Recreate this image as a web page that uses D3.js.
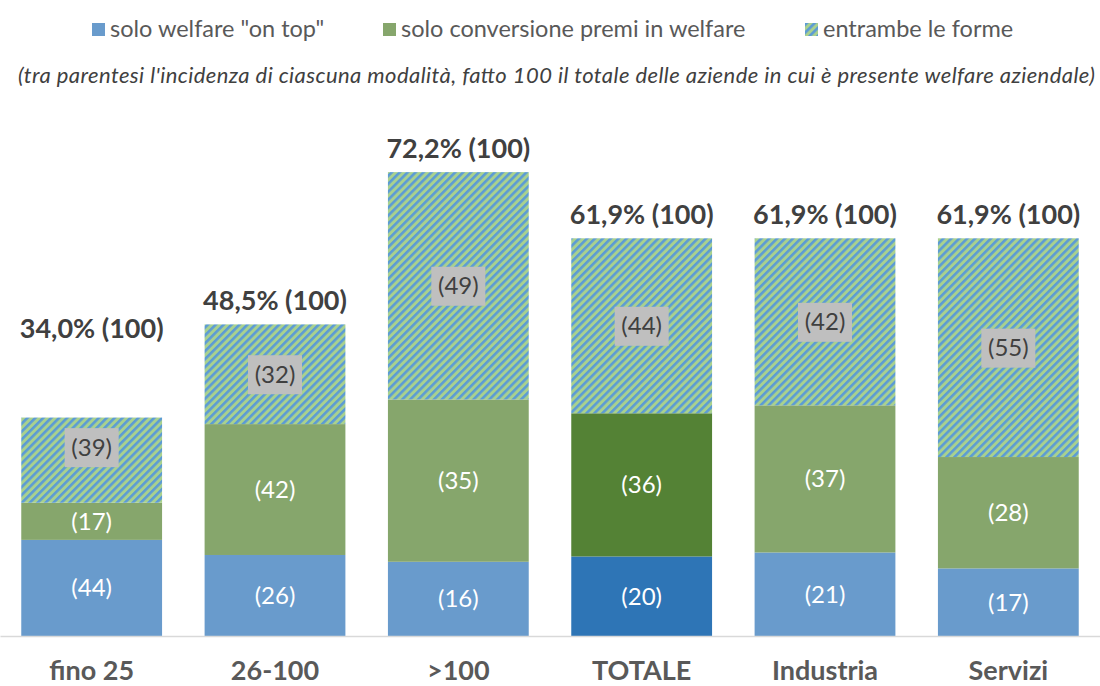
<!DOCTYPE html>
<html>
<head>
<meta charset="utf-8">
<script src="https://cdn.jsdelivr.net/npm/d3@7"></script>
<style>
  body { margin: 0; background: #fff; }
  svg { display: block; }
</style>
</head>
<body>
<div id="chart"></div>
<script>
const categories = ['fino 25', '26-100', '>100', 'TOTALE', 'Industria', 'Servizi']
const totals = [34.0, 48.5, 72.2, 61.9, 61.9, 61.9]
const onTop = [44, 26, 16, 20, 21, 17]
const conversione = [17, 42, 35, 36, 37, 28]
const entrambe = [39, 32, 49, 44, 42, 55]
const seriesNames = ['solo welfare "on top"', 'solo conversione premi in welfare', 'entrambe le forme']
const subtitle = "(tra parentesi l'incidenza di ciascuna  modalità, fatto 100 il totale delle aziende in cui è presente welfare aziendale)"

const width = 1100, height = 686
const baseline = 636
const font = 'Lato, "Open Sans", sans-serif'

const xScale = d3.scaleBand().domain(categories).range([0, 1100]).paddingInner(0.232).paddingOuter(0.116)
const yScale = d3.scaleLinear().domain([0, 80]).range([baseline, baseline - 80 * 6.425])

const svg = d3.select('#chart').append('svg')
              .attr('width', width)
              .attr('height', height)
              .style('font-family', font)

// hatch pattern for "entrambe le forme"
const pattern = svg.append('defs').append('pattern')
                   .attr('id', 'hatch')
                   .attr('patternUnits', 'userSpaceOnUse')
                   .attr('width', 5.6).attr('height', 5.6)
                   .attr('patternTransform', 'rotate(45)')
pattern.append('rect').attr('width', 5.6).attr('height', 5.6).attr('fill', '#a9d18e')
pattern.append('rect').attr('width', 2.6).attr('height', 5.6).attr('fill', '#5b9bd5')

const fills = (i, k) => {
    if (k === 2) return 'url(#hatch)'
    if (categories[i] === 'TOTALE') return k === 0 ? '#2e75b6' : '#548235'
    return k === 0 ? '#699bcc' : '#86a66c'
}

// build stacked rows: share of each bar total
const rows = categories.map((c, i) => ({ cat: c, total: totals[i], s: [onTop[i], conversione[i], entrambe[i]] }))
const segs = []
rows.forEach((r, i) => {
    let acc = 0
    r.s.forEach((v, k) => {
        const y0 = acc, y1 = acc + v * r.total / 100
        segs.push({ i, k, cat: r.cat, v, y0, y1 })
        acc = y1
    })
})

const graph = svg.append('g')

graph.selectAll('rect.seg').data(segs).join('rect')
     .attr('class', 'seg')
     .attr('x', d => xScale(d.cat))
     .attr('width', xScale.bandwidth())
     .attr('y', d => yScale(d.y1))
     .attr('height', d => yScale(d.y0) - yScale(d.y1))
     .attr('fill', d => fills(d.i, d.k))

// x axis
const xAxis = svg.append('g')
                 .attr('transform', `translate(0, ${baseline})`)
                 .call(d3.axisBottom(xScale).tickSize(0).tickPadding(25))
xAxis.select('.domain').attr('stroke', '#d9d9d9').attr('stroke-width', 1.5)
xAxis.selectAll('text')
     .style('font-family', font)
     .style('font-size', '27px')
     .style('font-weight', '700')
     .attr('fill', '#595959')

// segment labels
const labels = graph.selectAll('g.lbl').data(segs).join('g')
                    .attr('class', 'lbl')
                    .attr('transform', d => {
                        // the first hatched label sits a bit higher in the original
                        const nudge = (d.i === 0 && d.k === 2) ? -13 : 0
                        return `translate(${xScale(d.cat) + xScale.bandwidth() / 2}, ${(yScale(d.y0) + yScale(d.y1)) / 2 + nudge})`
                    })
labels.filter(d => d.k === 2).append('rect')
      .attr('x', -27).attr('y', -19).attr('width', 54).attr('height', 39)
      .attr('fill', '#bfbfbf')
labels.append('text')
      .text(d => `(${d.v})`)
      .attr('text-anchor', 'middle')
      .attr('dy', '0.35em')
      .style('font-size', '24px')
      .attr('fill', d => d.k === 2 ? '#404040' : '#ffffff')

// totals on top
graph.selectAll('text.tot').data(rows).join('text')
     .attr('class', 'tot')
     .attr('x', d => xScale(d.cat) + xScale.bandwidth() / 2)
     .attr('y', (d, i) => yScale(d.total) - (i === 0 ? 80 : 14))
     .attr('text-anchor', 'middle')
     .text(d => `${d3.format('.1f')(d.total).replace('.', ',')}% (100)`)
     .style('font-size', '27px')
     .style('font-weight', '700')
     .attr('fill', '#404040')

// legend
const legendX = [92, 383, 805]
const legend = svg.selectAll('g.legend').data(seriesNames).join('g')
                  .attr('class', 'legend')
                  .attr('transform', (d, i) => `translate(${legendX[i]}, 23)`)
legend.append('rect')
      .attr('width', 13).attr('height', 13)
      .attr('fill', (d, i) => i === 2 ? 'url(#hatch)' : (i === 0 ? '#699bcc' : '#86a66c'))
legend.append('text')
      .attr('x', 18).attr('y', 14)
      .text(d => d)
      .style('font-size', '23.5px')
      .attr('fill', '#595959')

svg.append('text')
   .attr('x', 18).attr('y', 83)
   .attr('textLength', 1077)
   .attr('lengthAdjust', 'spacing')
   .text(subtitle)
   .style('font-size', '22px')
   .style('font-style', 'italic')
   .attr('fill', '#404040')
</script>
</body>
</html>
